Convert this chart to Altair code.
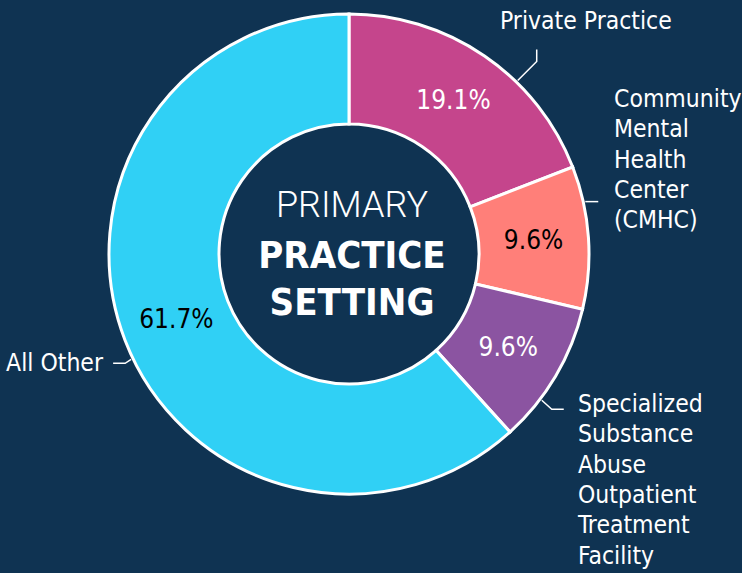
import altair as alt
import pandas as pd
import numpy as np

# ---- data ----
categories = ["Private Practice", "Community Mental Health Center (CMHC)",
              "Specialized Substance Abuse Outpatient Treatment Facility", "All Other"]
shares = [19.1, 9.6, 9.6, 61.7]
pct_labels = ["19.1%", "9.6%", "9.6%", "61.7%"]
name_labels = ["Private Practice", "Community\nMental\nHealth\nCenter\n(CMHC)",
               "Specialized\nSubstance\nAbuse\nOutpatient\nTreatment\nFacility", "All Other"]
center_title = ["PRIMARY", "PRACTICE", "SETTING"]

# ---- styles / layout ----
W, H = 742, 573
CX, CY = 349, 254
R_OUT, R_IN = 240, 130
R_LABEL = 185
BG = "#0f3352"
colors = ["#c5458c", "#ff7f79", "#8b54a1", "#30d0f5"]
pct_colors = ["white", "black", "white", "black"]
FONT = "DejaVu Sans Condensed, Roboto, sans-serif"

# leader anchors (angle in degrees from top, clockwise) and extra segment offsets
leader_angles = [44.2, 77.5, 127.2, 244.2]
leader_offsets = [[(19, -19), (19, -31)], [(13, 0)], [(10, 9), (22, 9)], [(-6, 4), (-18, 4)]]
name_pos = [(500, 29, "left"), (614, 107, "left"), (578, 412, "left"), (103, 371, "right")]

df = pd.DataFrame({"cat": categories, "share": shares, "idx": range(4)})

# percent label positions from the cumulative shares
tot = sum(shares)
cum = np.cumsum([0] + shares)
mid = (cum[:-1] + cum[1:]) / 2 / tot * 2 * np.pi
pct_df = pd.DataFrame({
    "x": CX + R_LABEL * np.sin(mid),
    "y": CY - R_LABEL * np.cos(mid),
    "t": pct_labels, "c": pct_colors,
})

# leader lines
rows = []
for i, a in enumerate(leader_angles):
    ar = np.deg2rad(a)
    x0 = CX + (R_OUT + 2) * np.sin(ar)
    y0 = CY - (R_OUT + 2) * np.cos(ar)
    rows.append({"g": i, "o": 0, "x": x0, "y": y0})
    for k, (dx, dy) in enumerate(leader_offsets[i]):
        rows.append({"g": i, "o": k + 1, "x": x0 + dx, "y": y0 + dy})
lead_df = pd.DataFrame(rows)

name_df = pd.DataFrame({
    "x": [p[0] for p in name_pos], "y": [p[1] for p in name_pos],
    "t": name_labels, "a": [p[2] for p in name_pos],
})

xs = alt.Scale(domain=[0, W], range=[0, W])
ys = alt.Scale(domain=[0, H], range=[0, H])

arcs = alt.Chart(df).mark_arc(radius=R_OUT, radius2=R_IN, stroke="white",
                               strokeWidth=3).encode(
    theta=alt.Theta("share:Q", stack=True),
    color=alt.Color("cat:N", scale=alt.Scale(domain=categories, range=colors), legend=None),
    order=alt.Order("idx:Q"),
    x=alt.value(CX), y=alt.value(CY),
)

pct = alt.Chart(pct_df).mark_text(font=FONT, fontSize=26, baseline="middle",
                                   align="center").encode(
    x=alt.X("x:Q", scale=xs, axis=None),
    y=alt.Y("y:Q", scale=ys, axis=None),
    text="t:N",
    color=alt.Color("c:N", scale=None),
)

leaders = alt.Chart(lead_df).mark_line(color="white", strokeWidth=1.5).encode(
    x=alt.X("x:Q", scale=xs, axis=None),
    y=alt.Y("y:Q", scale=ys, axis=None),
    detail="g:N", order="o:Q",
)

name_layers = []
for i in range(4):
    name_layers.append(
        alt.Chart(name_df.iloc[[i]]).mark_text(
            font=FONT, fontSize=24.5, color="white", baseline="alphabetic",
            align=name_pos[i][2], lineBreak="\n", lineHeight=30.3,
        ).encode(
            x=alt.X("x:Q", scale=xs, axis=None),
            y=alt.Y("y:Q", scale=ys, axis=None),
            text="t:N",
        )
    )

center_df = pd.DataFrame({"t": center_title, "x": [352, 352, 352], "y": [217, 268, 315]})
c1 = alt.Chart(center_df.iloc[[0]]).mark_text(
    font="Roboto, sans-serif", fontWeight=300, fontSize=36, color="white",
    baseline="alphabetic", align="center").encode(
    x=alt.X("x:Q", scale=xs, axis=None), y=alt.Y("y:Q", scale=ys, axis=None), text="t:N")
c2 = alt.Chart(center_df.iloc[[1, 2]]).mark_text(
    font=FONT, fontWeight="bold", fontSize=38, color="white",
    baseline="alphabetic", align="center").encode(
    x=alt.X("x:Q", scale=xs, axis=None), y=alt.Y("y:Q", scale=ys, axis=None), text="t:N")

chart = alt.layer(arcs, leaders, pct, *name_layers, c1, c2).properties(
    width=W, height=H, background=BG, padding=0,
    autosize=alt.AutoSizeParams(type="none"),
).configure_view(stroke=None)

chart.save("out.html", embed_options={"renderer": "svg", "actions": False})
